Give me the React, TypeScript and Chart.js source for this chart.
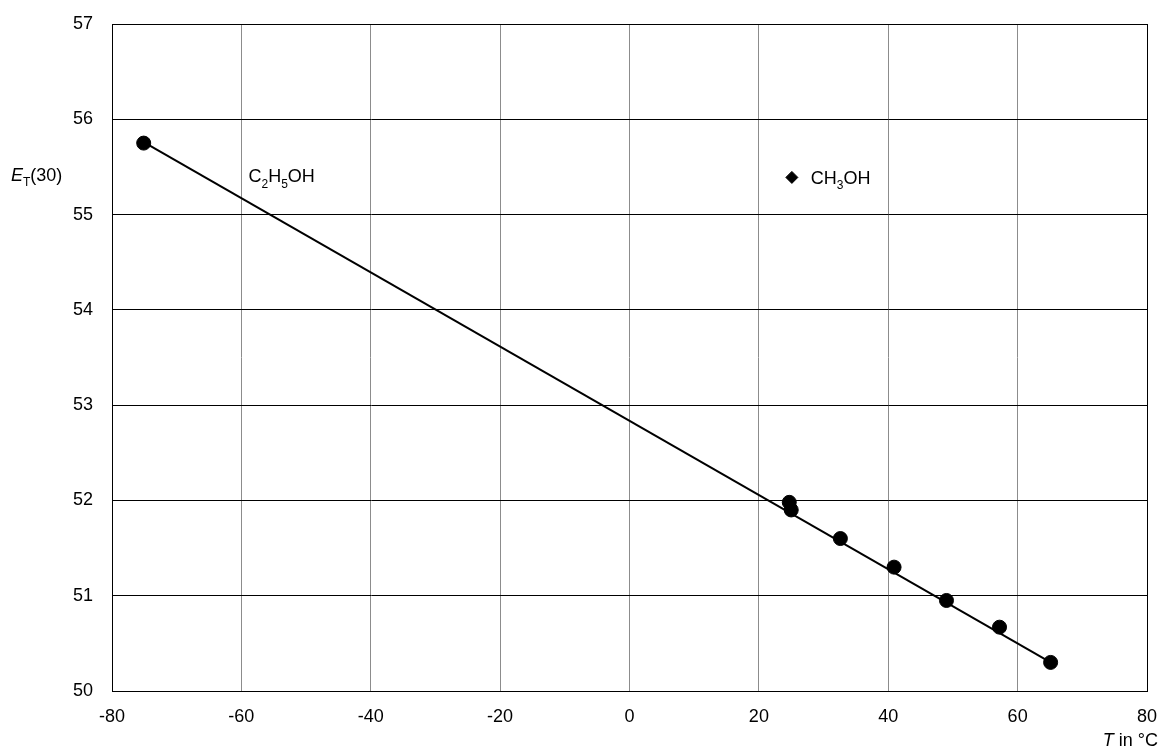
import React, { useEffect, useRef } from "react";
import { Chart, registerables } from "chart.js";

Chart.register(...registerables);

// Ethanol measurements (T in °C, ET(30))
const ethanolT = [-75.1, 24.7, 25.0, 32.6, 40.9, 49.0, 57.2, 65.1];
const ethanolET = [55.75, 51.98, 51.9, 51.6, 51.3, 50.95, 50.67, 50.3];
// Trend line endpoints
const trendT = [-75.1, 65.1];
const trendET = [55.76, 50.3];
// Methanol point
const methanolT = [25.1];
const methanolET = [55.39];

const xTicks = [-80, -60, -40, -20, 0, 20, 40, 60, 80];
const yTicks = [50, 51, 52, 53, 54, 55, 56, 57];

const FONT = "'Liberation Sans', Arial, sans-serif";
const FS = 18;

type Part = { t: string; sub?: boolean; italic?: boolean };

function drawParts(ctx: CanvasRenderingContext2D, parts: Part[], x: number, y: number, size: number, align: "left" | "right") {
  const subSize = Math.round(size * 0.68);
  const widths = parts.map((p) => {
    ctx.font = `${p.italic ? "italic " : ""}${p.sub ? subSize : size}px ${FONT}`;
    return ctx.measureText(p.t).width;
  });
  const total = widths.reduce((a, b) => a + b, 0);
  let cx = align === "left" ? x : x - total;
  parts.forEach((p, i) => {
    ctx.font = `${p.italic ? "italic " : ""}${p.sub ? subSize : size}px ${FONT}`;
    ctx.textAlign = "left";
    ctx.textBaseline = "alphabetic";
    ctx.fillStyle = "#000";
    ctx.fillText(p.t, cx, p.sub ? y + size * 0.3 : y);
    cx += widths[i];
  });
}

const annotations = {
  id: "annotations",
  afterDraw(chart: any) {
    const ctx = chart.ctx as CanvasRenderingContext2D;
    const xs = chart.scales.x;
    const ys = chart.scales.y;
    ctx.save();
    // C2H5OH label
    drawParts(
      ctx,
      [{ t: "C" }, { t: "2", sub: true }, { t: "H" }, { t: "5", sub: true }, { t: "OH" }],
      xs.getPixelForValue(-58.9),
      ys.getPixelForValue(55.4) + 6,
      FS,
      "left"
    );
    // CH3OH label
    drawParts(
      ctx,
      [{ t: "CH" }, { t: "3", sub: true }, { t: "OH" }],
      xs.getPixelForValue(methanolT[0]) + 19,
      ys.getPixelForValue(methanolET[0]) + 6.5,
      FS,
      "left"
    );
    // Y axis title
    drawParts(ctx, [{ t: "E", italic: true }, { t: "T", sub: true }, { t: "(30)" }], 11, 181, FS, "left");
    // X axis title
    drawParts(ctx, [{ t: "T", italic: true }, { t: " in °C" }], 1158, 746, FS, "right");
    ctx.restore();
  },
};

const zeroPad = (s: any) => {
  s.paddingLeft = 0;
  s.paddingRight = 0;
  s.paddingTop = 0;
  s.paddingBottom = 0;
};

export default function App() {
  const ref = useRef<HTMLCanvasElement>(null);
  useEffect(() => {
    document.body.style.margin = "0";
    const chart = new Chart(ref.current!, {
      type: "scatter",
      data: {
        datasets: [
          {
            label: "trend",
            data: trendT.map((t, i) => ({ x: t, y: trendET[i] })),
            showLine: true,
            borderColor: "#000",
            borderWidth: 2,
            pointRadius: 0,
            fill: false,
          },
          {
            label: "C2H5OH",
            data: ethanolT.map((t, i) => ({ x: t, y: ethanolET[i] })),
            pointRadius: 7,
            pointStyle: "circle",
            backgroundColor: "#000",
            borderColor: "#000",
          },
          {
            label: "CH3OH",
            data: methanolT.map((t, i) => ({ x: t, y: methanolET[i] })),
            pointRadius: 6,
            pointStyle: "rectRot",
            backgroundColor: "#000",
            borderColor: "#000",
          },
        ],
      },
      options: {
        animation: false,
        responsive: false,
        layout: { padding: 0 },
        plugins: { legend: { display: false }, tooltip: { enabled: false } },
        scales: {
          x: {
            type: "linear",
            min: -80,
            max: 80,
            afterBuildTicks: (s: any) => {
              s.ticks = xTicks.map((v) => ({ value: v }));
            },
            afterFit: (s: any) => {
              s.height = 63;
              zeroPad(s);
            },
            ticks: { color: "#000", font: { family: FONT, size: FS }, padding: 15, maxRotation: 0 },
            grid: { color: "#8c8c8c", lineWidth: 1, drawTicks: false },
            border: { color: "#000", width: 1 },
          },
          y: {
            type: "linear",
            min: 50,
            max: 57,
            afterBuildTicks: (s: any) => {
              s.ticks = yTicks.map((v) => ({ value: v }));
            },
            afterFit: (s: any) => {
              s.width = 112;
              zeroPad(s);
            },
            ticks: { color: "#000", font: { family: FONT, size: FS }, padding: 19 },
            grid: { color: "#000", lineWidth: 1, drawTicks: false },
            border: { color: "#000", width: 1 },
          },
          x2: {
            type: "linear",
            position: "top",
            min: -80,
            max: 80,
            display: true,
            ticks: { display: false },
            grid: { display: false, drawTicks: false },
            border: { color: "#000", width: 1 },
            afterFit: (s: any) => {
              s.height = 24;
              zeroPad(s);
            },
          },
          y2: {
            type: "linear",
            position: "right",
            min: 50,
            max: 57,
            display: true,
            ticks: { display: false },
            grid: { display: false, drawTicks: false },
            border: { color: "#000", width: 1 },
            afterFit: (s: any) => {
              s.width = 13;
              zeroPad(s);
            },
          },
        },
      } as any,
      plugins: [annotations],
    });
    return () => chart.destroy();
  }, []);
  return (
    <div style={{ position: "absolute", left: 0, top: 0, width: 1160, height: 754 }}>
      <canvas ref={ref} width={1160} height={754} style={{ width: 1160, height: 754 }} />
    </div>
  );
}
